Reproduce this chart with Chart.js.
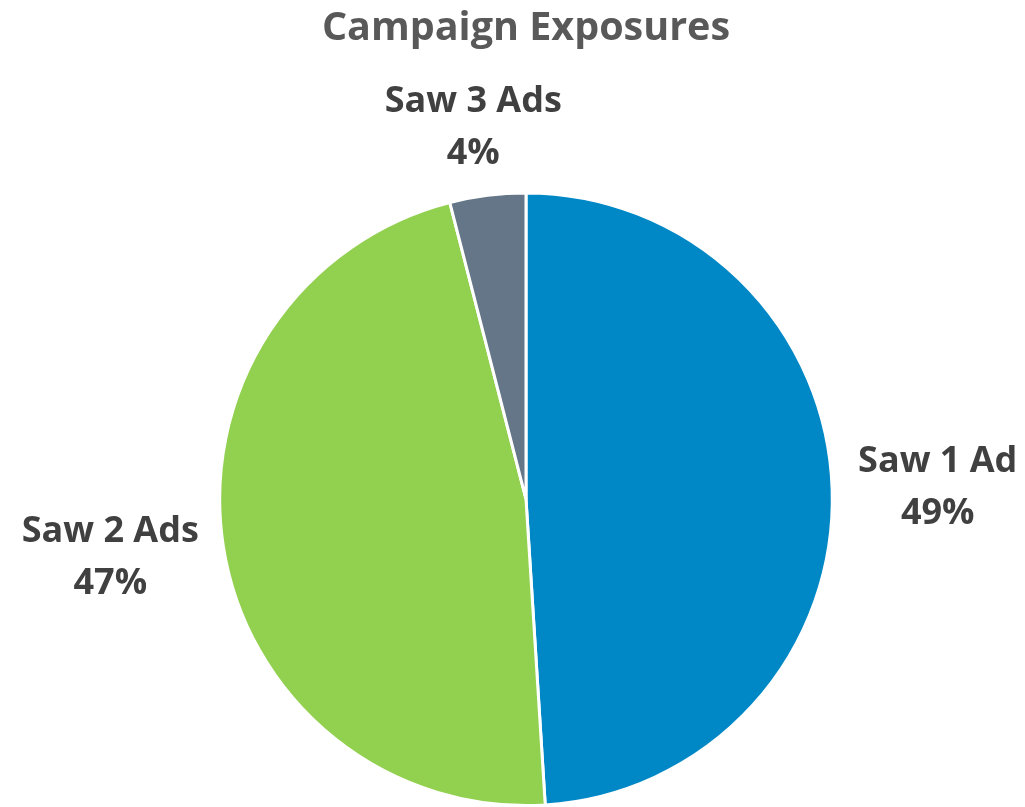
<!DOCTYPE html>
<html>
<head>
    <meta charset="utf-8">
    <title>Campaign Exposures</title>
    <script src="https://cdn.jsdelivr.net/npm/chart.js"></script>
    <style>
        body { margin: 0; background: #fff; }
        canvas { display: block; }
    </style>
</head>
<body>
    <canvas id="pie" width="1025" height="807"></canvas>

    <script>
        const categories = ["Saw 1 Ad", "Saw 2 Ads", "Saw 3 Ads"];
        const shares = [49, 47, 4];
        const sliceColors = ["#0088C6", "#92D050", "#647687"];

        const FONT = "'Open Sans'";
        const LABEL_SIZE = 36;
        const LABEL_LINE = 52;
        const GAP_X = 26;
        const GAP_Y = 16;

        // category name + percentage placed just outside each slice
        const outsideLabels = {
            id: "outsideLabels",
            afterDatasetsDraw(chart) {
                const ctx = chart.ctx;
                const meta = chart.getDatasetMeta(0);
                ctx.save();
                ctx.font = `bold ${LABEL_SIZE}px ${FONT}`;
                ctx.fillStyle = "#404040";
                ctx.textAlign = "center";
                ctx.textBaseline = "middle";
                meta.data.forEach((arc, i) => {
                    const p = arc.getProps(["x", "y", "startAngle", "endAngle", "outerRadius"], true);
                    const mid = (p.startAngle + p.endAngle) / 2;
                    const dx = Math.cos(mid), dy = Math.sin(mid);
                    const lines = [categories[i], shares[i] + "%"];
                    const w = Math.max(...lines.map(t => ctx.measureText(t).width));
                    const h = LABEL_LINE * lines.length;
                    const cx = p.x + dx * (p.outerRadius + GAP_X + w / 2);
                    const cy = p.y + dy * (p.outerRadius + GAP_Y + h / 2);
                    lines.forEach((t, k) => {
                        ctx.fillText(t, cx, cy + (k - (lines.length - 1) / 2) * LABEL_LINE);
                    });
                });
                ctx.restore();
            }
        };

        new Chart(document.getElementById("pie"), {
            type: "pie",
            data: {
                labels: categories,
                datasets: [{
                    data: shares,
                    backgroundColor: sliceColors,
                    borderColor: "#ffffff",
                    borderWidth: 3
                }]
            },
            options: {
                responsive: false,
                animation: false,
                layout: { padding: { left: 27, right: 0, top: 0, bottom: 0 } },
                plugins: {
                    legend: { display: false },
                    tooltip: { enabled: false },
                    title: {
                        display: true,
                        text: "Campaign Exposures",
                        color: "#595959",
                        font: { family: FONT, size: 39.5, weight: "bold", lineHeight: 1.2 },
                        padding: { top: 5, bottom: 139 }
                    }
                }
            },
            plugins: [outsideLabels]
        });
    </script>
</body>
</html>
